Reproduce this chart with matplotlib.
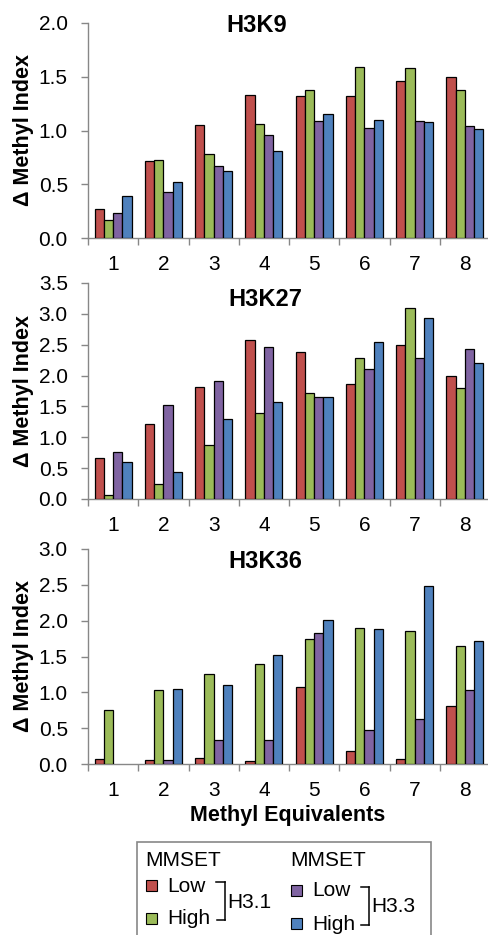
import numpy as np
import matplotlib.pyplot as plt
from matplotlib.patches import Rectangle
from matplotlib.lines import Line2D

plt.rcParams['font.family'] = ['Liberation Sans', 'DejaVu Sans']

# ---- data ----
equivalents = [1, 2, 3, 4, 5, 6, 7, 8]
series = ["H3.1 Low", "H3.1 High", "H3.3 Low", "H3.3 High"]
colors = ["#C0504D", "#9BBB59", "#8064A2", "#4F81BD"]

h3k9_h31_low = [0.27, 0.72, 1.05, 1.33, 1.32, 1.32, 1.46, 1.50]
h3k9_h31_high = [0.17, 0.73, 0.78, 1.06, 1.38, 1.59, 1.58, 1.38]
h3k9_h33_low = [0.23, 0.43, 0.67, 0.96, 1.09, 1.02, 1.09, 1.04]
h3k9_h33_high = [0.39, 0.52, 0.62, 0.81, 1.15, 1.10, 1.08, 1.01]

h3k27_h31_low = [0.66, 1.22, 1.82, 2.57, 2.39, 1.86, 2.49, 2.00]
h3k27_h31_high = [0.07, 0.25, 0.87, 1.40, 1.71, 2.28, 3.09, 1.80]
h3k27_h33_low = [0.76, 1.52, 1.92, 2.46, 1.66, 2.10, 2.28, 2.43]
h3k27_h33_high = [0.60, 0.44, 1.29, 1.57, 1.66, 2.55, 2.93, 2.20]

h3k36_h31_low = [0.07, 0.05, 0.08, 0.04, 1.07, 0.18, 0.07, 0.81]
h3k36_h31_high = [0.76, 1.03, 1.25, 1.40, 1.75, 1.90, 1.86, 1.64]
h3k36_h33_low = [0.0, 0.05, 0.34, 0.34, 1.83, 0.47, 0.63, 1.03]
h3k36_h33_high = [0.0, 1.04, 1.10, 1.52, 2.01, 1.88, 2.49, 1.71]

panels = [
    ("H3K9", [h3k9_h31_low, h3k9_h31_high, h3k9_h33_low, h3k9_h33_high], 2.0),
    ("H3K27", [h3k27_h31_low, h3k27_h31_high, h3k27_h33_low, h3k27_h33_high], 3.5),
    ("H3K36", [h3k36_h31_low, h3k36_h31_high, h3k36_h33_low, h3k36_h33_high], 3.0),
]

W, H = 489, 935
fig = plt.figure(figsize=(W / 100, H / 100), dpi=100)


def fx(px):
    return px / W


def fy(py):
    return 1 - py / H


# axes pixel boxes: (top, bottom)
boxes = [(23, 238), (283, 499), (549, 764)]
title_pos = [(257, 25), (265, 300), (265, 561)]
left, right = 88, 490
spine_gray = "#878787"
x = np.arange(1, 9)
bw = 0.185
fs_tick = 15

for (name, vals, ymax), (top, bot), (tx, ty) in zip(panels, boxes, title_pos):
    ax = fig.add_axes([fx(left), fy(bot), (right - left) / W, (bot - top) / H])
    for i, (v, c) in enumerate(zip(vals, colors)):
        lw = [0 if h == 0 else 0.9 for h in v]
        ax.bar(x + (i - 1.5) * bw, v, bw, color=c, edgecolor="black",
               linewidth=lw, zorder=3)
    ax.set_xlim(0.5, 8.5)
    ax.set_ylim(0, ymax)
    yt = np.arange(0, ymax + 0.01, 0.5)
    ax.set_yticks(yt)
    ax.set_yticklabels([f"{t:.1f}" for t in yt])
    ax.set_xticks(x)
    ax.set_xticklabels([str(e) for e in equivalents])
    ax.set_xticks(np.arange(0.5, 9.0, 1.0), minor=True)
    ax.tick_params(axis="x", which="major", length=0, pad=12, labelsize=fs_tick)
    ax.tick_params(axis="x", which="minor", length=5, color=spine_gray, width=1)
    ax.tick_params(axis="y", length=5, color=spine_gray, width=1,
                   labelsize=fs_tick, pad=9.5)
    for s in ("top", "right"):
        ax.spines[s].set_visible(False)
    for s in ("left", "bottom"):
        ax.spines[s].set_color(spine_gray)
        ax.spines[s].set_linewidth(1)
    ax.set_ylabel("\u0394 Methyl Index", fontsize=15.5, fontweight="bold", labelpad=3)
    fig.text(fx(tx), fy(ty), name, ha="center", va="center",
             fontsize=17, fontweight="bold")

fig.text(fx(288), fy(816), "Methyl Equivalents", ha="center", va="center",
         fontsize=15.5, fontweight="bold")

# ---- hand-made legend ----
fig.patches.append(Rectangle((fx(137), fy(945)), (431 - 137) / W, (945 - 842) / H,
                             transform=fig.transFigure, fill=False,
                             edgecolor=spine_gray, linewidth=1.2))

fs_leg = 15


def line(xs, ys):
    fig.lines.append(Line2D([fx(v) for v in xs], [fy(v) for v in ys],
                            transform=fig.transFigure, color="black", lw=1.1))


def legend_group(x0, y_low, y_high, c_low, c_high, label, bx_low, bx_high, bx, lab_y):
    fig.text(fx(x0), fy(860), "MMSET", ha="left", va="center", fontsize=fs_leg)
    for c, yy, txt in [(c_low, y_low, "Low"), (c_high, y_high, "High")]:
        fig.patches.append(Rectangle((fx(x0 + 1), fy(yy + 5.5)), 11 / W, 11 / H,
                                     transform=fig.transFigure, facecolor=c,
                                     edgecolor="black", linewidth=0.8))
        fig.text(fx(x0 + 22), fy(yy + 1), txt, ha="left", va="center", fontsize=fs_leg)
    line([bx_low, bx], [y_low - 3, y_low - 3])
    line([bx, bx], [y_low - 3, y_high + 2])
    line([bx_high, bx], [y_high + 2, y_high + 2])
    fig.text(fx(bx + 2), fy(lab_y), label, ha="left", va="center", fontsize=fs_leg)


legend_group(145, 885, 918, colors[0], colors[1], "H3.1", 216, 217, 225, 902)
legend_group(290, 890, 923, colors[2], colors[3], "H3.3", 361, 361, 369, 907)

fig.savefig("out.png", dpi=100)
